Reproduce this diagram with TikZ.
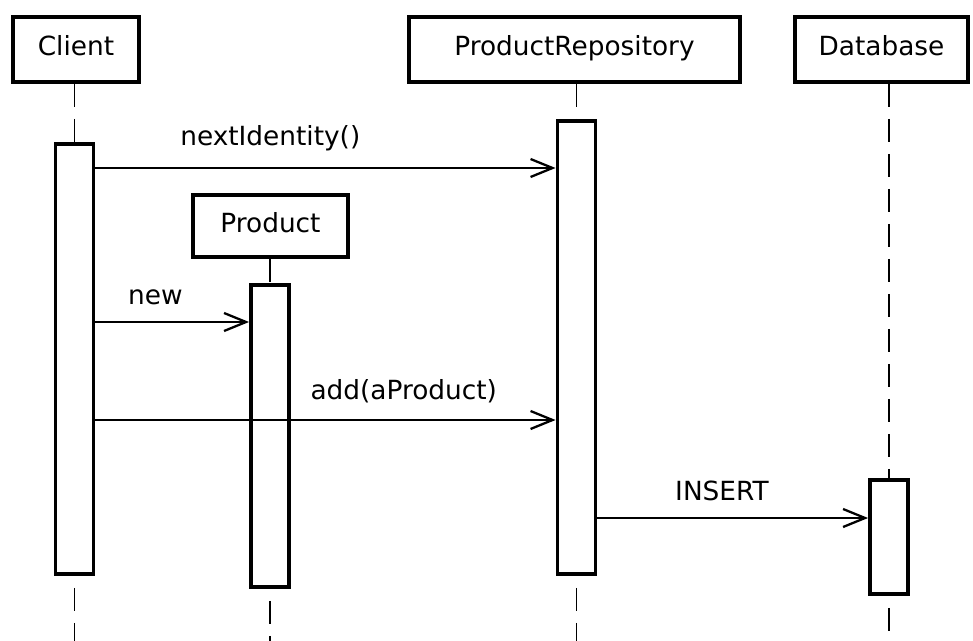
\documentclass[tikz,border=0pt]{standalone}
\usepackage{fontspec}
\setmainfont{DejaVu Sans}
\usepackage{tikz}
\usetikzlibrary{arrows.meta,positioning}

\begin{document}
\begin{tikzpicture}[
    object/.style={draw, line width=2.2pt, minimum height=1.3cm, inner sep=0pt,
                   text height=0.73em, text depth=0pt,
                   font=\fontsize{15pt}{18pt}\selectfont},
    activation/.style={draw, line width=2.2pt, fill=white, minimum width=0.76cm,
                       anchor=north, inner sep=0pt},
    msg/.style={-{Straight Barb[length=4.4mm, width=3.6mm]}, line width=1.3pt},
    lifeline/.style={line width=1.1pt, dash pattern=on 0.46cm off 0.24cm},
    lifetail/.style={lifeline, dash phase=0.46cm},
    msglabel/.style={above=0.2cm, font=\fontsize{15pt}{18pt}\selectfont}
]
\useasboundingbox (0,0) rectangle (19.46,-12.82);
\coordinate (bottom) at (0,-12.82);

% --- objects ---
\node[object, minimum width=2.52cm] (client) at (1.52,-0.99) {Client};
\node[object, minimum width=6.62cm] (repo)   at (11.49,-0.99) {ProductRepository};
\node[object, minimum width=3.46cm] (db)     at (17.63,-0.99) {Database};
\node[object, minimum width=3.1cm, minimum height=1.24cm] (product) at (5.41,-4.52) {Product};

% --- activations ---
\node[activation, minimum height=8.6cm]  (clientact)  at (1.49,-2.84) {};
\node[activation, minimum height=6.04cm] (productact) at (5.40,-5.66) {};
\node[activation, minimum height=9.06cm] (repoact)    at (11.53,-2.38) {};
\node[activation, minimum height=2.28cm] (dbact)      at (17.78,-9.56) {};

% --- lifelines ---
\draw[lifeline] (client.south -| clientact.north) -- (clientact.north);
\draw[lifeline] (product.south -| productact.north) -- (productact.north);
\draw[lifeline] (repo.south -| repoact.north) -- (repoact.north);
\draw[lifeline] (db.south -| dbact.north) -- (dbact.north);
\draw[lifetail] (clientact.south) -- (clientact.south |- bottom);
\draw[lifetail] (productact.south) -- (productact.south |- bottom);
\draw[lifetail] (repoact.south) -- (repoact.south |- bottom);
\draw[lifetail] (dbact.south) -- (dbact.south |- bottom);

% --- messages ---
\draw[msg] ([yshift=-0.52cm]clientact.north east) -- ([yshift=-0.52cm]clientact.north east -| repoact.west)
  node[pos=0.38, msglabel] {nextIdentity()};
\draw[msg] ([yshift=-3.6cm]clientact.north east) -- ([yshift=-3.6cm]clientact.north east -| productact.west)
  node[pos=0.39, msglabel] {new};
\draw[msg] ([yshift=-5.56cm]clientact.north east) -- ([yshift=-5.56cm]clientact.north east -| repoact.west)
  node[pos=0.67, msglabel] {add(aProduct)};
\draw[msg] ([yshift=-7.98cm]repoact.north east) -- ([yshift=-7.98cm]repoact.north east -| dbact.west)
  node[pos=0.46, msglabel] {INSERT};

\end{tikzpicture}
\end{document}
